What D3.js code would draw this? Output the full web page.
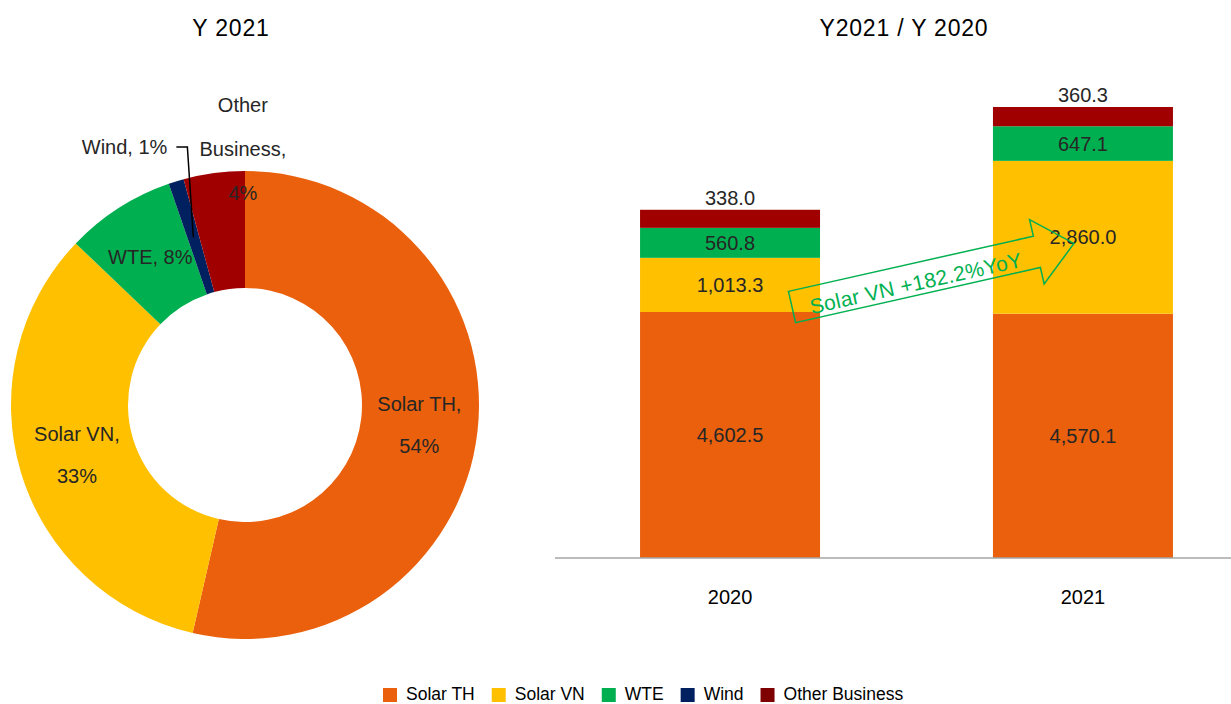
<!DOCTYPE html>
<html>
<head>
<meta charset="utf-8">
<script src="https://cdn.jsdelivr.net/npm/d3@7"></script>
<style>
  body { margin: 0; background: #fff; }
  svg { display: block; font-family: "Liberation Sans", Arial, sans-serif; }
</style>
</head>
<body>
<div id="chart"></div>
<script>
// data
const segments = ['Solar TH', 'Solar VN', 'WTE', 'Wind', 'Other Business'];
const colors = ['#EA600C', '#FFC000', '#00B050', '#002060', '#A00000'];
const legendColors = ['#EA600C', '#FFC000', '#00B050', '#002060', '#7F0000'];
const pieValues = [4570.1, 2860.0, 647.1, 90, 360.3];
const piePercents = ['54%', '33%', '8%', '1%', '4%'];
const years = ['2020', '2021'];
const barSolarTH = [4602.5, 4570.1];
const barSolarVN = [1013.3, 2860.0];
const barWTE = [560.8, 647.1];
const barOther = [338.0, 360.3];
const arrowText = 'Solar VN +182.2%YoY';

const W = 1231, H = 704;
const txt = '#262626';
const svg = d3.select('#chart').append('svg').attr('width', W).attr('height', H);

// titles
svg.append('text').attr('x', 231).attr('y', 36).attr('text-anchor', 'middle')
  .attr('font-size', '23px').attr('letter-spacing', '0.8px').attr('fill', '#000').text('Y 2021');
svg.append('text').attr('x', 904).attr('y', 36).attr('text-anchor', 'middle')
  .attr('font-size', '23px').attr('letter-spacing', '0.8px').attr('fill', '#000').text('Y2021 / Y 2020');

// ---- doughnut ----
const cx = 245, cy = 405, R = 234, r0 = 117;
const pieData = d3.pie().sort(null).value(d => d)(pieValues);
const arc = d3.arc().innerRadius(r0).outerRadius(R);
const pg = svg.append('g').attr('transform', `translate(${cx},${cy})`);
pg.selectAll('path').data(pieData).join('path')
  .attr('d', arc).attr('fill', (d, i) => colors[i]);

const labelArc = d3.arc().innerRadius((r0 + R) / 2).outerRadius((r0 + R) / 2);
// label lines per slice
const lines = [
  [segments[0] + ',', piePercents[0]],
  [segments[1] + ',', piePercents[1]],
  [segments[2] + ', ' + piePercents[2]],
  null,
  ['Other', 'Business,', piePercents[4]]
];
pieData.forEach((d, i) => {
  if (!lines[i]) return;
  let [lx, ly] = labelArc.centroid(d);
  if (i === 4) { // pushed above the ring
    const a = (d.startAngle + d.endAngle) / 2;
    lx = Math.sin(a) * 258 + 32; ly = -Math.cos(a) * 258;
  }
  const n = lines[i].length, gap = i === 4 ? 44 : 42;
  lines[i].forEach((s, k) => {
    pg.append('text').attr('x', lx).attr('y', ly + (k - (n - 1) / 2) * gap)
      .attr('dy', '0.35em').attr('text-anchor', 'middle')
      .attr('font-size', '20px').attr('fill', txt).text(s);
  });
});
// wind label with leader
{
  const d = pieData[3];
  const [wx, wy] = labelArc.centroid(d);
  const ex = wx - 6, ey = -258;
  pg.append('path').attr('d', `M${wx},${wy}L${ex},${ey}L${ex - 11},${ey}`)
    .attr('fill', 'none').attr('stroke', '#000').attr('stroke-width', 1.5);
  pg.append('text').attr('x', ex - 20).attr('y', ey).attr('dy', '0.35em')
    .attr('text-anchor', 'end').attr('font-size', '20px').attr('fill', txt)
    .text(segments[3] + ', ' + piePercents[3]);
}

// ---- stacked bars ----
const barKeys = ['Solar TH', 'Solar VN', 'WTE', 'Other Business'];
const barSeries = [barSolarTH, barSolarVN, barWTE, barOther];
const rows = years.map((y, i) => {
  const o = { year: y };
  barKeys.forEach((k, j) => o[k] = barSeries[j][i]);
  return o;
});
const stack = d3.stack().keys(barKeys)(rows);
const x = d3.scaleBand().domain(years).range([555, 1258]).paddingInner(0.49).paddingOuter(0.241);
const y = d3.scaleLinear()
  .domain([0, d3.max(rows, r => d3.sum(barKeys, k => r[k]))])
  .range([558, 107]);
const fmtv = d3.format(',.1f');

const bg = svg.append('g');
stack.forEach((layer, j) => {
  const col = colors[segments.indexOf(layer.key)];
  bg.selectAll(null).data(layer).join('rect')
    .attr('x', d => x(d.data.year)).attr('width', x.bandwidth())
    .attr('y', d => y(d[1])).attr('height', d => y(d[0]) - y(d[1]))
    .attr('fill', col);
  bg.selectAll(null).data(layer).join('text')
    .attr('x', d => x(d.data.year) + x.bandwidth() / 2)
    .attr('y', d => layer.key === 'Other Business' ? y(d[1]) - 12 : (y(d[0]) + y(d[1])) / 2)
    .attr('dy', '0.35em').attr('text-anchor', 'middle')
    .attr('font-size', '20px').attr('fill', txt)
    .text(d => fmtv(d[1] - d[0]));
});

// x axis
svg.append('line').attr('x1', 555).attr('x2', W).attr('y1', y(0)).attr('y2', y(0))
  .attr('stroke', '#a6a6a6').attr('stroke-width', 1.5);
const ax = svg.append('g').attr('transform', `translate(0,${y(0)})`)
  .call(d3.axisBottom(x).tickSize(0).tickPadding(32));
ax.select('.domain').remove();
ax.selectAll('text').attr('font-size', '20px').attr('fill', '#000')
  .attr('font-family', '"Liberation Sans", Arial, sans-serif');

// growth arrow
{
  const L = 289, hl = 38, sw = 16, hw = 33;
  const ag = svg.append('g').attr('transform', 'translate(792,307) rotate(-12.7)');
  ag.append('path')
    .attr('d', `M0,${-sw}L${L - hl},${-sw}L${L - hl},${-hw}L${L},0L${L - hl},${hw}L${L - hl},${sw}L0,${sw}Z`)
    .attr('fill', 'none').attr('stroke', '#00B050').attr('stroke-width', 1.5);
  ag.append('text').attr('x', 126).attr('y', 4).attr('dy', '0.35em')
    .attr('text-anchor', 'middle').attr('font-size', '21px').attr('letter-spacing', '0.3px')
    .attr('fill', '#00B050').text(arrowText);
}

// legend
{
  const lg = svg.append('g');
  let lx = 383;
  segments.forEach((s, i) => {
    lg.append('rect').attr('x', lx).attr('y', 688).attr('width', 14).attr('height', 14)
      .attr('fill', legendColors[i]);
    const t = lg.append('text').attr('x', lx + 23).attr('y', 700)
      .attr('font-size', '17.5px').attr('fill', '#000').text(s);
    lx += 23 + t.node().getComputedTextLength() + 17;
  });
}
</script>
</body>
</html>
